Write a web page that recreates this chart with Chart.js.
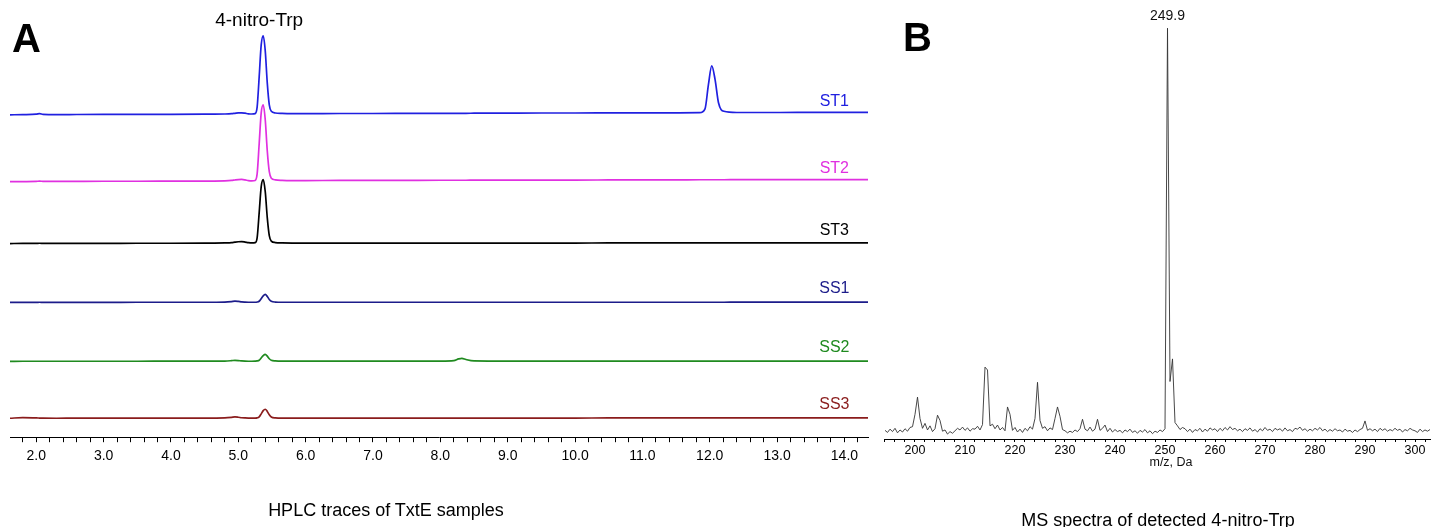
<!DOCTYPE html>
<html>
<head>
<meta charset="utf-8">
<script src="https://cdn.jsdelivr.net/npm/chart.js@4.4.1/dist/chart.umd.min.js"></script>
<style>
  body { margin: 0; width: 1431px; height: 527px; background: #fff; position: relative; overflow: hidden;
         font-family: "Liberation Sans", Arial, sans-serif; }
  #boxA { position: absolute; left: 0; top: 0; width: 880px; height: 527px; }
  #boxB { position: absolute; left: 880px; top: 0; width: 551px; height: 527px; }
  .letter { position: absolute; font: bold 40px "Liberation Sans", Arial, sans-serif; line-height: 1; color: #000; }
  .caption { position: absolute; font-size: 18px; line-height: 1; color: #000; white-space: nowrap; transform: translateX(-50%); }
</style>
</head>
<body>
<div id="boxA"><canvas id="graficoHplc" width="880" height="527"></canvas></div>
<div id="boxB"><canvas id="graficoMs" width="551" height="527"></canvas></div>
<div class="letter" style="left:12px; top:18px;">A</div>
<div class="letter" style="left:903px; top:17px;">B</div>
<div class="caption" style="left:386px; top:501px;">HPLC traces of TxtE samples</div>
<div class="caption" style="left:1158px; top:511px;">MS spectra of detected 4-nitro-Trp</div>

<script>
// ---------- HPLC (painel A) ----------
const hplcTime = [1.61, 1.8, 2.0, 2.05, 2.1, 2.3, 2.6, 3.0, 3.5, 4.0,
                  4.5, 4.8, 4.9, 4.95, 5.0, 5.05, 5.1, 5.15, 5.2, 5.25,
                  5.28, 5.31, 5.34, 5.37, 5.40, 5.43, 5.46, 5.49,
                  5.55, 5.65, 5.8, 6.0, 6.5, 7.0, 7.5, 8.0, 8.2, 8.27,
                  8.32, 8.38, 8.5, 9.0, 9.5, 10.0, 10.5, 11.0, 11.5, 11.85,
                  11.93, 11.98, 12.03, 12.08, 12.13, 12.21, 12.4, 13.0, 13.5, 14.0, 14.35]

const traceNames = ['ST1', 'ST2', 'ST3', 'SS1', 'SS2', 'SS3']
const traceColors = ['#2020e0', '#e030e0', '#000000', '#1c1c8a', '#1f8a1f', '#8a1c1c']
const traceBaselines = [323, 256, 194, 135, 76, 19]

const st1 = [0, 0.2, 0.6, 1.2, 0.4, 0.2, 0.3, 0.4, 0.5, 0.5,
             0.6, 0.8, 1.1, 1.5, 1.9, 2.0, 1.6, 1.0, 0.8, 1.2,
             8, 38, 70, 79, 64, 32, 10, 3.5,
             1.8, 1.4, 1.2, 1.2, 1.3, 1.3, 1.4, 1.5, 1.5, 1.5,
             1.5, 1.5, 1.6, 1.7, 1.8, 1.8, 1.9, 2.0, 2.0, 2.1,
             6, 30, 49, 35, 12, 3.5, 2.3, 2.3, 2.4, 2.5, 2.5]
const st2 = [0, 0.1, 0.3, 0.5, 0.3, 0.2, 0.3, 0.4, 0.4, 0.5,
             0.6, 0.8, 1.2, 1.7, 2.1, 2.2, 1.8, 1.1, 0.8, 1.2,
             8, 38, 69, 77, 62, 31, 10, 3.5,
             1.8, 1.3, 1.1, 1.1, 1.2, 1.2, 1.3, 1.4, 1.4, 1.4,
             1.4, 1.4, 1.5, 1.5, 1.6, 1.6, 1.7, 1.8, 1.8, 1.9,
             1.9, 1.9, 1.9, 1.9, 1.9, 1.9, 2.0, 2.0, 2.0, 2.1, 2.1]
const st3 = [0, 0.1, 0.2, 0.3, 0.2, 0.1, 0.2, 0.2, 0.3, 0.3,
             0.4, 0.6, 0.9, 1.4, 1.8, 1.9, 1.5, 0.9, 0.6, 0.9,
             6, 31, 57, 64, 52, 26, 8, 2.5,
             1.0, 0.6, 0.5, 0.5, 0.5, 0.5, 0.5, 0.5, 0.5, 0.5,
             0.5, 0.5, 0.5, 0.5, 0.5, 0.5, 0.6, 0.6, 0.6, 0.6,
             0.6, 0.6, 0.6, 0.6, 0.6, 0.6, 0.6, 0.7, 0.7, 0.7, 0.7]
const ss1 = [0, 0.1, 0.1, 0.2, 0.1, 0.1, 0.1, 0.1, 0.2, 0.2,
             0.2, 0.4, 0.9, 1.3, 1.0, 0.5, 0.3, 0.2, 0.2, 0.2,
             0.4, 1.2, 3.8, 6.6, 8.0, 6.0, 3.0, 1.2,
             0.4, 0.2, 0.2, 0.2, 0.2, 0.2, 0.2, 0.2, 0.2, 0.2,
             0.2, 0.2, 0.2, 0.2, 0.2, 0.2, 0.2, 0.2, 0.2, 0.2,
             0.2, 0.2, 0.2, 0.2, 0.2, 0.2, 0.3, 0.3, 0.3, 0.3, 0.3]
const ss2 = [0, 0.1, 0.1, 0.1, 0.1, 0.1, 0.1, 0.1, 0.1, 0.2,
             0.2, 0.3, 0.7, 1.0, 0.8, 0.4, 0.2, 0.1, 0.1, 0.2,
             0.4, 1.1, 3.4, 5.8, 7.0, 5.2, 2.6, 1.0,
             0.4, 0.2, 0.3, 0.2, 0.2, 0.2, 0.2, 0.3, 0.8, 2.4,
             3.0, 1.8, 0.4, 0.2, 0.2, 0.2, 0.2, 0.2, 0.2, 0.2,
             0.2, 0.2, 0.2, 0.2, 0.2, 0.2, 0.2, 0.2, 0.3, 0.3, 0.3]
const ss3 = [0, 0.6, 0.3, 0.2, 0.1, 0.0, 0.1, 0.1, 0.1, 0.2,
             0.2, 0.4, 0.9, 1.3, 1.0, 0.5, 0.3, 0.2, 0.2, 0.2,
             0.4, 1.4, 4.4, 7.6, 9.0, 6.8, 3.4, 1.3,
             0.4, 0.2, 0.2, 0.2, 0.2, 0.2, 0.2, 0.2, 0.2, 0.2,
             0.2, 0.2, 0.2, 0.2, 0.2, 0.2, 0.3, 0.3, 0.3, 0.3,
             0.3, 0.3, 0.3, 0.3, 0.3, 0.3, 0.4, 0.4, 0.4, 0.4, 0.4]
const traceSignals = [st1, st2, st3, ss1, ss2, ss3]

const hplcTickLabels = ['2.0', '3.0', '4.0', '5.0', '6.0', '7.0', '8.0', '9.0', '10.0', '11.0', '12.0', '13.0', '14.0']
const hplcPeakName = '4-nitro-Trp'

// ---------- MS (painel B) ----------
const msStart = 194
const msStep = 0.5
const msIntensity = [
  2.1, 1.6, 2.4, 1.8, 2.6, 1.5, 2.2, 1.7, 2.5, 1.9, 2.8, 3.0, 6.0, 10.2, 5.0, 2.6, 3.8, 2.2, 3.2, 1.8,
  2.5, 5.8, 4.5, 1.9, 2.2, 1.2, 1.8, 1.4, 2.0, 2.6, 2.2, 2.9, 2.1, 2.7, 1.9, 2.5, 2.4, 3.1, 2.2, 3.5,
  17.5, 16.8, 3.2, 3.6, 2.5, 3.4, 2.2, 2.8, 2.0, 7.8, 6.0, 2.1, 2.8, 1.7, 2.4, 1.6, 2.6, 2.0, 3.0, 2.4,
  5.0, 13.8, 4.5, 2.6, 3.0, 2.0, 2.7, 2.3, 5.0, 7.8, 5.5, 2.3, 2.0, 1.5, 1.9, 1.6, 2.2, 1.8, 2.5, 4.8,
  2.4, 2.0, 2.9, 1.9, 2.4, 4.8, 2.1, 2.6, 3.4, 1.8, 2.6, 1.7, 2.3, 1.8, 2.1, 1.5, 2.2, 1.8, 2.4, 1.6,
  2.0, 1.4, 2.1, 1.7, 2.3, 1.5, 2.0, 1.3, 1.9, 1.6, 2.2, 1.8, 2.5, 100, 14, 19.5, 4.0, 3.2, 2.3, 2.8,
  2.5, 1.8, 2.4, 1.6, 2.3, 2.0, 2.6, 1.7, 2.4, 1.9, 2.7, 2.2, 2.5, 1.8, 2.6, 2.0, 2.8, 2.2, 3.0, 2.3,
  2.6, 2.0, 2.4, 1.8, 2.5, 2.1, 2.7, 1.9, 2.3, 1.7, 2.5, 2.0, 2.8, 2.1, 2.4, 1.8, 2.6, 2.2, 2.5, 1.9,
  2.7, 2.0, 2.3, 1.8, 2.6, 2.4, 2.9, 2.1, 2.5, 1.9, 2.4, 2.0, 2.6, 2.2, 2.8, 2.0, 2.4, 1.8, 2.3, 1.9,
  2.5, 2.0, 2.2, 1.7, 2.4, 1.9, 2.1, 1.6, 2.2, 1.8, 2.3, 2.6, 4.4, 2.1, 2.5, 2.0, 2.4, 1.8, 2.6, 2.1,
  2.5, 1.9, 2.3, 2.0, 2.6, 2.1, 2.4, 1.7, 2.3, 2.0, 2.6, 2.2, 2.0, 1.6, 2.4, 1.8, 2.2, 1.9, 2.3
]
const msTickLabels = ['200', '210', '220', '230', '240', '250', '260', '270', '280', '290', '300']
const msPeakLabel = '249.9'
const msAxisName = 'm/z, Da'

const fonte = '"Liberation Sans", Arial, sans-serif'

/* marcas de escala: menores a cada passo, rotulo so nas que estao na lista */
function montaTicks(inicio, fim, passo) {
    return function (scale) {
        const lista = []
        for (let v = inicio; v <= fim + 1e-9; v += passo) lista.push({ value: Math.round(v * 1000) / 1000 })
        scale.ticks = lista
    }
}
function rotulo(labels) {
    return function (value) {
        const achou = labels.find(l => Math.abs(parseFloat(l) - value) < 1e-6)
        return achou === undefined ? '' : achou
    }
}

/* textos das curvas */
const textosHplc = {
    id: 'textosHplc',
    afterDatasetsDraw(chart) {
        const { ctx, scales: { x, y } } = chart
        ctx.save()
        ctx.textAlign = 'center'
        ctx.textBaseline = 'alphabetic'
        ctx.font = '16px ' + fonte
        traceNames.forEach((nome, i) => {
            ctx.fillStyle = traceColors[i]
            ctx.fillText(nome, x.getPixelForValue(13.85), y.getPixelForValue(traceBaselines[i] + 9))
        })
        ctx.fillStyle = '#000'
        ctx.font = '19px ' + fonte
        ctx.fillText(hplcPeakName, x.getPixelForValue(5.31), y.getPixelForValue(412))
        ctx.restore()
    }
}

const textosMs = {
    id: 'textosMs',
    afterDatasetsDraw(chart) {
        const { ctx, scales: { x, y } } = chart
        const dados = chart.data.datasets[0].data
        let topo = dados[0]
        dados.forEach(p => { if (p.y > topo.y) topo = p })
        ctx.save()
        ctx.textAlign = 'center'
        ctx.fillStyle = '#111'
        ctx.font = '14px ' + fonte
        ctx.textBaseline = 'alphabetic'
        ctx.fillText(msPeakLabel, x.getPixelForValue(topo.x), y.getPixelForValue(topo.y) - 8)
        ctx.font = '12.5px ' + fonte
        ctx.fillText(msAxisName, x.getPixelForValue(251.2), y.bottom + 27)
        ctx.restore()
    }
}

                            /* HPLC */
const graficoHplc = new Chart(document.querySelector('#graficoHplc'), {
    type: 'line',
    data: {
        datasets: traceNames.map((nome, i) => ({
            label: nome,
            data: hplcTime.map((t, k) => ({ x: t, y: traceBaselines[i] + traceSignals[i][k] })),
            borderColor: traceColors[i],
            borderWidth: 1.7,
            pointRadius: 0,
            cubicInterpolationMode: 'monotone',
            fill: false
        }))
    },
    options: {
        responsive: false,
        animation: false,
        devicePixelRatio: 1,
        layout: { padding: { left: 10, right: 12, top: 0, bottom: 56 } },
        plugins: { legend: { display: false }, tooltip: { enabled: false } },
        scales: {
            x: {
                type: 'linear',
                min: 1.61,
                max: 14.35,
                afterBuildTicks: montaTicks(1.8, 14.2, 0.2),
                grid: { drawOnChartArea: false, tickLength: 5, color: '#000', tickWidth: 1 },
                border: { color: '#000', width: 1 },
                ticks: { autoSkip: false, maxRotation: 0, padding: 6, color: '#000',
                         font: { family: fonte, size: 14 }, callback: rotulo(hplcTickLabels) }
            },
            y: { display: false, min: 0, max: 438 }
        }
    },
    plugins: [textosHplc]
})

                            /* MS */
const graficoMs = new Chart(document.querySelector('#graficoMs'), {
    type: 'line',
    data: {
        datasets: [{
            label: 'MS',
            data: msIntensity.map((v, k) => ({ x: msStart + k * msStep, y: v })),
            borderColor: '#333333',
            borderWidth: 0.9,
            pointRadius: 0,
            tension: 0,
            fill: false
        }]
    },
    options: {
        responsive: false,
        animation: false,
        devicePixelRatio: 1,
        layout: { padding: { left: 4, right: 0, top: 20, bottom: 68 } },
        plugins: { legend: { display: false }, tooltip: { enabled: false } },
        scales: {
            x: {
                type: 'linear',
                min: 193.8,
                max: 303.2,
                afterBuildTicks: montaTicks(194, 302, 2),
                grid: { drawOnChartArea: false, tickLength: 3, color: '#000', tickWidth: 1 },
                border: { color: '#000', width: 1 },
                ticks: { autoSkip: false, maxRotation: 0, padding: 1, color: '#000',
                         font: { family: fonte, size: 12.5 }, callback: rotulo(msTickLabels) }
            },
            y: { display: false, min: 0, max: 102 }
        }
    },
    plugins: [textosMs]
})
</script>
</body>
</html>
